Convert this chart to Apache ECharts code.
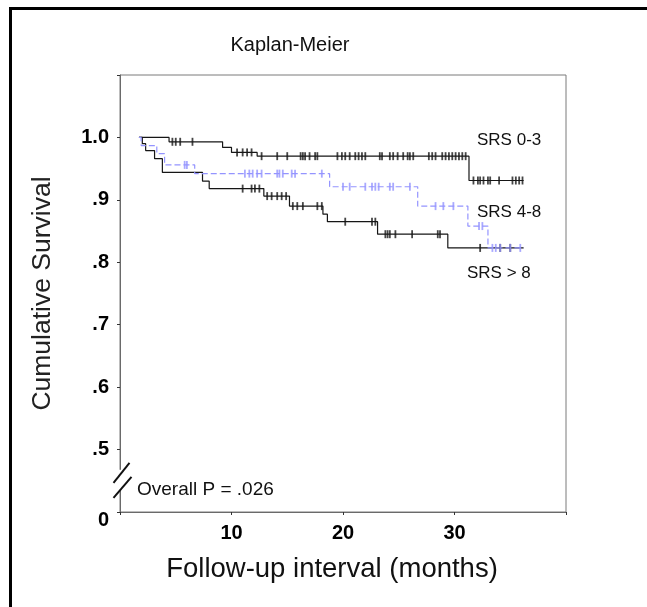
<!DOCTYPE html>
<html>
<head>
<meta charset="utf-8">
<script src="https://cdn.jsdelivr.net/npm/echarts@6/dist/echarts.min.js"></script>
<style>
  html, body { margin: 0; padding: 0; background: #fff; }
  #chart { width: 647px; height: 607px; }
</style>
</head>
<body>
<div id="chart"></div>
<script>
// Kaplan-Meier survival by SRS group: step points are [month, survival after event]
const srs03Steps = [[1.7, 1.0], [4.4, 0.993], [9.2, 0.984], [10.0, 0.976], [12.3, 0.970], [31.3, 0.931], [36.2, 0.931]];
const srs48Steps = [[1.7, 1.0], [1.9, 0.987], [3.3, 0.974], [4.0, 0.956], [6.7, 0.942], [18.8, 0.921], [26.7, 0.890], [31.2, 0.858], [33.0, 0.823], [36.2, 0.823]];
const srsGt8Steps = [[1.7, 1.0], [2.0, 0.990], [2.3, 0.979], [3.1, 0.966], [3.8, 0.944], [7.4, 0.930], [8.0, 0.918], [12.9, 0.906], [15.2, 0.890], [18.2, 0.877], [18.6, 0.865], [23.1, 0.845], [29.4, 0.823], [36.2, 0.823]];

// Censored observations (month, survival level)
const srs03Censored = [
  [4.7, 0.993], [5.0, 0.993], [5.4, 0.993], [6.5, 0.993],
  [10.5, 0.976], [11.0, 0.976], [11.4, 0.976], [11.8, 0.976],
  [12.7, 0.97], [14.1, 0.97], [15.0, 0.97], [16.2, 0.97], [16.4, 0.97], [16.6, 0.97], [17.0, 0.97], [17.5, 0.97], [17.7, 0.97],
  [19.5, 0.97], [19.9, 0.97], [20.2, 0.97], [20.6, 0.97], [21.1, 0.97], [21.4, 0.97], [21.7, 0.97], [22.0, 0.97],
  [23.3, 0.97], [23.5, 0.97], [24.2, 0.97], [24.5, 0.97], [24.9, 0.97], [25.4, 0.97], [25.8, 0.97], [26.0, 0.97], [26.3, 0.97],
  [27.7, 0.97], [28.0, 0.97], [28.3, 0.97], [28.9, 0.97], [29.2, 0.97], [29.5, 0.97], [29.8, 0.97], [30.1, 0.97], [30.4, 0.97], [30.7, 0.97], [31.0, 0.97],
  [31.7, 0.931], [32.1, 0.931], [32.3, 0.931], [32.6, 0.931], [33.0, 0.931], [33.2, 0.931], [34.0, 0.931], [35.2, 0.931], [35.5, 0.931], [35.8, 0.931], [36.1, 0.931]
];
const srs48Censored = [
  [5.8, 0.956], [6.0, 0.956],
  [11.2, 0.942], [11.6, 0.942], [11.9, 0.942], [12.3, 0.942], [12.7, 0.942], [14.1, 0.942], [14.3, 0.942], [14.6, 0.942], [15.4, 0.942], [15.7, 0.942], [18.1, 0.942],
  [20.0, 0.921], [20.6, 0.921], [22.0, 0.921], [22.6, 0.921], [22.9, 0.921], [23.2, 0.921], [24.2, 0.921], [24.5, 0.921], [26.0, 0.921],
  [28.3, 0.89], [29.0, 0.89], [29.9, 0.89],
  [32.2, 0.858], [32.5, 0.858],
  [33.4, 0.823], [33.7, 0.823], [34.1, 0.823], [35.0, 0.823], [35.9, 0.823]
];
const srsGt8Censored = [
  [11.0, 0.918], [11.8, 0.918], [12.1, 0.918], [12.5, 0.918],
  [13.2, 0.906], [13.6, 0.906], [14.1, 0.906], [14.5, 0.906], [14.9, 0.906],
  [15.5, 0.89], [15.9, 0.89], [16.4, 0.89], [17.7, 0.89], [18.1, 0.89],
  [20.2, 0.865], [22.6, 0.865], [22.9, 0.865],
  [23.8, 0.845], [24.0, 0.845], [24.2, 0.845], [24.7, 0.845], [26.2, 0.845], [28.5, 0.845], [28.7, 0.845],
  [32.3, 0.823], [34.1, 0.823], [35.0, 0.823]
];

// Axis tick labels (the y axis is broken below .5, its bottom reads 0)
const xTickLabels = { 10: '10', 20: '20', 30: '30' };
const yTickLabels = { 4: '0', 5: '.5', 6: '.6', 7: '.7', 8: '.8', 9: '.9', 10: '1.0' };

const groupNames = ['SRS 0-3', 'SRS 4-8', 'SRS > 8'];
const FONT = "'Liberation Sans', Arial, sans-serif";
const BLUE = '#9494ff';
const DARK = '#161616';

const chart = echarts.init(document.getElementById('chart'), null, { renderer: 'canvas' });

function stepSeries(name, data, color, dashed, z) {
  return {
    name, type: 'line', step: 'end', data, symbol: 'none', z,
    lineStyle: { color, width: 1.2, type: dashed ? [6, 3] : 'solid' },
    silent: true
  };
}
function censorSeries(name, data, color, z) {
  return {
    name: name + ' censored', type: 'scatter', data, z,
    symbol: 'rect', symbolSize: [1.8, 8],
    itemStyle: { color }, silent: true
  };
}

const option = {
  backgroundColor: '#fff',
  animation: false,
  grid: { left: 120, right: 81, top: 75, bottom: 95, show: true, borderColor: '#7a7a7a', borderWidth: 1 },
  xAxis: {
    type: 'value', min: 0, max: 40, interval: 10,
    name: 'Follow-up interval (months)', nameLocation: 'middle', nameGap: 43,
    nameTextStyle: { fontFamily: FONT, fontSize: 27.5, color: '#111', padding: [0, 22, 0, 0] },
    axisLine: { lineStyle: { color: '#6a6a6a', width: 1 } },
    axisTick: { show: true, length: 3, lineStyle: { color: '#333' } },
    splitLine: { show: false },
    axisLabel: {
      margin: 11, fontFamily: FONT, fontSize: 20, fontWeight: 'bold', color: '#000',
      formatter: v => xTickLabels[Math.round(v)] || ''
    }
  },
  yAxis: {
    type: 'value', min: 0.4, max: 1.1, interval: 0.1,
    name: 'Cumulative Survival', nameLocation: 'middle', nameGap: 64, nameRotate: 90,
    nameTextStyle: { fontFamily: FONT, fontSize: 26.5, color: '#222', padding: [0, 0, 0, 0] },
    axisLine: { lineStyle: { color: '#6a6a6a', width: 1 } },
    axisTick: { show: true, length: 3, lineStyle: { color: '#333' } },
    splitLine: { show: false },
    axisLabel: {
      margin: 11, fontFamily: FONT, fontSize: 20, fontWeight: 'bold', color: '#000',
      formatter: v => {
        const k = Math.round(v * 10);
        if (k === 4) return '{zero|' + yTickLabels[k] + '}';
        return yTickLabels[k] || '';
      },
      rich: { zero: { fontFamily: FONT, fontSize: 20, fontWeight: 'bold', color: '#000', padding: [16, 0, 0, 0] } }
    }
  },
  series: [
    stepSeries(groupNames[0], srs03Steps, DARK, false, 3),
    stepSeries(groupNames[2], srsGt8Steps, DARK, false, 3),
    stepSeries(groupNames[1], srs48Steps, BLUE, true, 4),
    censorSeries(groupNames[0], srs03Censored, DARK, 5),
    censorSeries(groupNames[2], srsGt8Censored, DARK, 5),
    censorSeries(groupNames[1], srs48Censored, BLUE, 6)
  ]
};
chart.setOption(option);

// Decorations: outer frame, title, group labels, p-value, axis break
const brk = chart.convertToPixel({ gridIndex: 0 }, [0, 0.45]);
const bx = Math.round(brk[0]) + 0.5, by = brk[1];
const textStyle = (text, x, y, size, align) => ({
  type: 'text', z: 20,
  style: { text, x, y, fill: '#111', font: size + 'px ' + FONT, align: align || 'left', verticalAlign: 'middle' }
});
chart.setOption({
  graphic: [
    { type: 'line', z: 30, shape: { x1: 9, y1: 8.5, x2: 647, y2: 8.5 }, style: { stroke: '#000', lineWidth: 3 } },
    { type: 'line', z: 30, shape: { x1: 10.5, y1: 7, x2: 10.5, y2: 607 }, style: { stroke: '#000', lineWidth: 3 } },
    textStyle('Kaplan-Meier', 290, 45, 20, 'center'),
    textStyle(groupNames[0], 477, 140, 17),
    textStyle(groupNames[1], 477, 212, 17),
    textStyle(groupNames[2], 467, 273, 17),
    textStyle('Overall P = .026', 137, 490, 19),
    { type: 'rect', z: 25, shape: { x: bx - 3, y: by - 11, width: 6, height: 20 }, style: { fill: '#fff' } },
    { type: 'line', z: 26, shape: { x1: bx - 7, y1: by + 2, x2: bx + 9, y2: by - 18 }, style: { stroke: '#111', lineWidth: 2 } },
    { type: 'line', z: 26, shape: { x1: bx - 7, y1: by + 17, x2: bx + 11, y2: by - 4 }, style: { stroke: '#111', lineWidth: 2 } }
  ]
});
</script>
</body>
</html>
